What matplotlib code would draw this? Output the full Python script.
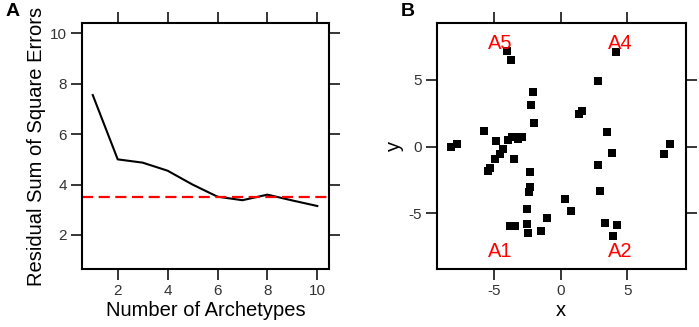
import matplotlib.pyplot as plt
import numpy as np

plt.rcParams['font.family'] = ['Liberation Sans', 'DejaVu Sans']
plt.rcParams['axes.unicode_minus'] = False

# panel A: residual sum of squares vs number of archetypes
n_arch = [1, 2, 3, 4, 5, 6, 7, 8, 9, 10]
rss = [7.55, 5.0, 4.87, 4.55, 4.0, 3.52, 3.38, 3.6, 3.37, 3.15]
rss_cut = 3.52

# panel B: points
px = [-4.05, -3.75, 2.83, 4.18, -2.05, -2.23, -2.03, 1.4, 1.63, -5.78,
      -8.2, -7.75, -4.85, -3.98, -3.68, -3.38, -3.18, -2.88, -4.3, -4.58,
      -4.93, -5.3, -5.48, -3.5, -2.28, -2.28, -2.4, -2.53, -2.53, -2.43,
      -3.78, -3.45, -1.5, -1.05, 0.3, 0.75, 2.83, 2.98, 3.48, 3.88,
      3.35, 4.2, 3.93, 7.73, 8.2]
py = [7.2, 6.48, 4.9, 7.13, 4.1, 3.15, 1.75, 2.43, 2.68, 1.15,
      0.0, 0.23, 0.4, 0.48, 0.75, 0.7, 0.55, 0.7, -0.15, -0.55,
      -0.95, -1.63, -1.8, -0.9, -1.93, -3.0, -3.43, -4.65, -5.78, -6.5,
      -5.98, -5.95, -6.33, -5.38, -3.9, -4.85, -1.35, -3.33, 1.1, -0.48,
      -5.75, -5.9, -6.73, -0.55, 0.2]
arch_names = ['A1', 'A2', 'A4', 'A5']
arch_x = [-4.55, 4.5, 4.5, -4.5]
arch_y = [-7.9, -7.9, 7.75, 7.75]

fig = plt.figure(figsize=(6.99, 3.27), dpi=100)
ax1 = fig.add_axes([0.1169, 0.1765, 0.3538, 0.754])
ax2 = fig.add_axes([0.6247, 0.1765, 0.3562, 0.7523])

def lattice_style(ax):
    for s in ax.spines.values():
        s.set_linewidth(1.5)
    ax.tick_params(direction='out', length=8, width=1.1, labelsize=11,
                   top=True, right=True, labeltop=False, labelright=False,
                   pad=2.5, labelcolor='#333333')

ax1.plot(n_arch, rss, color='black', lw=1.5)
ax1.axhline(rss_cut, color='red', lw=1.6, ls=(0, (5, 2.5)))
ax1.set_xlim(0.557, 10.47)
ax1.set_ylim(0.64, 10.42)
ax1.set_xticks([2, 4, 6, 8, 10])
ax1.set_yticks([2, 4, 6, 8, 10])
ax1.set_xlabel('Number of Archetypes', fontsize=14.5, labelpad=2)
ax1.set_ylabel('Residual Sum of Square Errors', fontsize=14.5, labelpad=3)
lattice_style(ax1)

ax2.scatter(px, py, marker='s', s=32, color='black', linewidths=0)
for name, xx, yy in zip(arch_names, arch_x, arch_y):
    ax2.text(xx, yy, name, color='red', fontsize=14.5, ha='center', va='center')
ax2.set_xlim(-9.3, 9.375)
ax2.set_ylim(-9.2, 9.25)
ax2.set_xticks([-5, 0, 5])
ax2.set_yticks([-5, 0, 5])
ax2.set_xlabel('x', fontsize=14.5, labelpad=2)
ax2.set_ylabel('y', fontsize=14.5, labelpad=3)
lattice_style(ax2)

fig.text(0.008, 0.99, 'A', fontsize=14, fontweight='bold', va='top')
fig.text(0.574, 0.99, 'B', fontsize=14, fontweight='bold', va='top')

fig.savefig('out.png', dpi=100)
